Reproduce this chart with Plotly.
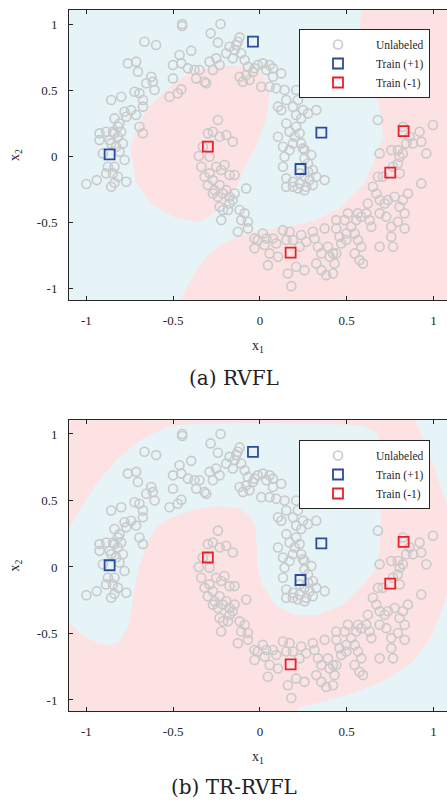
import plotly.graph_objects as go

# ---------------- data ----------------
unl_x = [
    -1.0, -0.94, -0.924, -0.905, -0.886, -0.857, -0.838, -0.838, -0.866, -0.847, -0.818, -0.857,
    -0.799, -0.838, -0.809, -0.77, -0.78, -0.742, -0.713, -0.694, -0.674, -0.78, -0.77, -0.761,
    -0.713, -0.703, -0.722, -0.694, -0.674, -0.674, -0.655, -0.626, -0.617, -0.607, -0.665, -0.598,
    -0.857, -0.828, -0.79, -0.809, -0.886, -0.924, -0.838, -0.799, -0.818, -0.876, -0.847, -0.818,
    -0.448, -0.448, -0.227, -0.284, -0.242, -0.463, -0.396, -0.501, -0.453, -0.415, -0.348, -0.367,
    -0.501, -0.521, -0.473, -0.453, -0.319, -0.309, -0.29, -0.252, -0.271, -0.232, -0.194, -0.156,
    -0.175, -0.117, -0.136, -0.108, -0.088, -0.069, -0.079, -0.117, -0.04, -0.012, 0.017, 0.037,
    0.056, 0.075, 0.123, 0.008, 0.056, 0.094, 0.142, 0.152, 0.209, 0.19, 0.219, 0.248,
    0.277, 0.325, 0.238, 0.152, 0.171, 0.104, 0.133, 0.142, 0.171, 0.2, 0.229, 0.238,
    0.257, 0.296, 0.277, 0.305, 0.325, 0.373, 0.152, 0.19, 0.229, 0.267, 0.305, 0.152,
    0.19, 0.133, 0.229, 0.257, 0.277, -0.377, -0.146, -0.127, -0.06, -0.098, -0.031, 0.075,
    0.104, 0.123, 0.209, 0.209, 0.19, 0.248, 0.257, 0.286, 0.219, 0.257,
    -0.352, -0.3, -0.242, -0.271, -0.232, -0.194, -0.156, -0.329, -0.29, -0.338, -0.319, -0.29,
    -0.271, -0.252, -0.223, -0.204, -0.175, -0.146, -0.3, -0.261, -0.232, -0.242, -0.213, -0.194,
    -0.175, -0.156, -0.146, -0.175, -0.271, -0.232, -0.213, -0.184, -0.223, -0.117, -0.088, -0.079,
    -0.069, -0.069, -0.108, -0.127, -0.031, -0.012, 0.017, 0.037, 0.075, 0.094, -0.031, 0.027,
    0.056, 0.104, 0.046, 0.133, 0.171, 0.19, 0.238, 0.152, 0.229, 0.267, 0.315, 0.334,
    0.354, 0.392, 0.402, 0.44, 0.469, 0.498, 0.526, 0.546, 0.565, 0.584, 0.546, 0.574,
    0.594, 0.161, 0.181, 0.209, 0.257, 0.325, 0.354, 0.382, 0.421, 0.43, 0.305, 0.44,
    0.373, 0.44, 0.488, 0.507, 0.555, 0.565, 0.584, 0.613, 0.622, 0.632, 0.642, 0.671,
    0.69, 0.719, 0.738, 0.776, 0.805, 0.824, 0.834, 0.853, 0.69, 0.728, 0.757, 0.795,
    0.834, 0.757, 0.69, 0.767, 0.651, 0.68, 0.709, 0.767, 0.795, 0.824, 0.795, 0.757,
    0.69, 0.68, 0.824, 0.863, 0.882, 0.92, 0.93, 0.959, 0.997, 0.93, 0.805, 0.459,
    0.498, 0.421, 0.843, 0.805,
]
unl_y = [
    -0.212, -0.182, 0.172, 0.02, -0.131, -0.232, -0.202, -0.081, 0.121, 0.184, 0.146, 0.424,
    0.449, 0.285, 0.247, 0.298, 0.336, 0.348, 0.311, 0.222, 0.172, -0.03, -0.194, 0.702,
    0.715, 0.639, 0.487, 0.475, 0.424, 0.374, 0.551, 0.601, 0.563, 0.5, 0.866, 0.841,
    0.096, 0.071, 0.096, 0.033, 0.184, 0.121, 0.172, 0.184, 0.222, -0.081, -0.131, -0.157,
    1.0, 0.985, 1.0, 0.929, 0.859, 0.765, 0.798, 0.689, 0.702, 0.664, 0.652, 0.588,
    0.588, 0.449, 0.475, 0.505, 0.563, 0.551, 0.715, 0.74, 0.652, 0.689, 0.778, 0.74,
    0.828, 0.899, 0.841, 0.778, 0.727, 0.677, 0.614, 0.601, 0.639, 0.689, 0.702, 0.652,
    0.689, 0.664, 0.626, 0.525, 0.525, 0.513, 0.5, 0.424, 0.5, 0.374, 0.424, 0.348,
    0.323, 0.348, 0.285, 0.247, 0.184, 0.146, 0.071, -0.005, 0.045, 0.146, 0.172, 0.096,
    0.045, 0.008, -0.056, -0.106, -0.157, -0.182, -0.169, -0.194, -0.207, -0.232, -0.22, -0.232,
    -0.232, -0.081, -0.131, -0.157, -0.119, 0.652, 0.803, 0.866, 0.576, 0.563, 0.664, 0.601,
    0.374, 0.348, 0.311, 0.222, 0.096, 0.058, -0.018, -0.182, -0.245, -0.258,
    0.0, 0.172, 0.273, 0.184, 0.146, 0.159, 0.109, 0.071, -0.005, -0.081, -0.157, -0.131,
    -0.182, -0.081, -0.106, -0.068, -0.144, -0.144, -0.22, -0.258, -0.22, -0.308, -0.283, -0.258,
    -0.308, -0.333, -0.283, -0.359, -0.283, -0.384, -0.409, -0.409, -0.485, -0.409, -0.434, -0.245,
    -0.497, -0.548, -0.485, -0.573, -0.624, -0.636, -0.586, -0.624, -0.624, -0.662, -0.699, -0.674,
    -0.737, -0.763, -0.826, -0.561, -0.573, -0.636, -0.598, -0.636, -0.687, -0.649, -0.624, -0.687,
    -0.737, -0.687, -0.763, -0.737, -0.662, -0.586, -0.535, -0.586, -0.636, -0.687, -0.737, -0.788,
    -0.813, -0.889, -0.985, -0.838, -0.864, -0.813, -0.864, -0.902, -0.889, -0.813, -0.573, -0.485,
    -0.548, -0.548, -0.485, -0.434, -0.485, -0.434, -0.46, -0.434, -0.359, -0.485, -0.535, -0.283,
    -0.333, -0.359, -0.333, -0.308, -0.384, -0.333, -0.434, -0.283, -0.434, -0.46, -0.535, -0.497,
    -0.548, -0.611, -0.687, -0.687, -0.232, -0.157, -0.157, -0.081, -0.056, 0.02, 0.045, 0.045,
    0.02, 0.273, 0.222, 0.146, 0.096, 0.184, 0.109, 0.02, 0.235, -0.207, -0.131, -0.611,
    -0.636, -0.737, 0.096, -0.005,
]

train_pos_x = [-0.04, 0.354, -0.866, 0.234]
train_pos_y = [0.866, 0.177, 0.013, -0.098]
train_neg_x = [-0.30, 0.828, 0.751, 0.177]
train_neg_y = [0.071, 0.189, -0.126, -0.732]

# RVFL: regions predicted as (-1), on a (+1) background
rvfl_neg_inner_x = [-0.352, -0.259, -0.127, 0.012, 0.058, 0.04, -0.012, -0.069, -0.081, -0.127,
                    -0.202, -0.3, -0.352, -0.484, -0.622, -0.715, -0.738, -0.749, -0.715, -0.64,
                    -0.524, -0.432]
rvfl_neg_inner_y = [0.652, 0.674, 0.689, 0.629, 0.5, 0.295, 0.098, -0.03, -0.068, -0.22,
                    -0.371, -0.462, -0.5, -0.47, -0.371, -0.197, 0.008, 0.045, 0.197, 0.371,
                    0.523, 0.606]
rvfl_neg_outer_x = [0.588, 0.588, 0.571, 0.6, 0.651, 0.692, 0.709, 0.674, 0.594, 0.461, 0.346,
                    0.259, 0.104, -0.069, -0.202, -0.3, -0.375, -0.467, -0.49, 1.2, 1.2]
rvfl_neg_outer_y = [1.2, 1.106, 0.955, 0.75, 0.515, 0.348, 0.144, 0.008, -0.22, -0.394, -0.47,
                    -0.508, -0.545, -0.583, -0.652, -0.75, -0.879, -1.106, -1.2, -1.2, 1.2]

# TR-RVFL: regions predicted as (+1), on a (-1) background
tr_pos_band_x = [-1.2, -1.1, -1.037, -0.941, -0.826, -0.692, -0.538, -0.4, 0.0, 0.4, 0.6, 0.68,
                 0.695, 0.697, 0.69, 0.66, 0.59, 0.475, 0.321, 0.206, 0.09, 0.013, -0.015,
                 -0.015, -0.025, -0.054, -0.121, -0.236, -0.371, -0.524, -0.601, -0.659, -0.697,
                 -0.717, -0.736, -0.765, -0.813, -0.87, -0.928, -1.024, -1.1, -1.2]
tr_pos_band_y = [0.25, 0.289, 0.426, 0.629, 0.802, 0.953, 1.053, 1.075, 1.08, 1.075, 1.06, 1.0,
                 0.516, 0.3, 0.1, -0.03, -0.138, -0.288, -0.363, -0.363, -0.288, -0.138, 0.013,
                 0.116, 0.291, 0.379, 0.441, 0.459, 0.436, 0.366, 0.291, 0.165, -0.01,
                 -0.113, -0.288, -0.463, -0.564, -0.589, -0.576, -0.514, -0.413, -0.38]
tr_pos_corner_x = [0.9, 0.897, 0.993, 1.078, 1.2, 1.2]
tr_pos_corner_y = [1.2, 1.1, 0.79, 0.466, 0.4, 1.2]
tr_pos_bottom_x = [0.19, 0.225, 0.359, 0.532, 0.724, 0.878, 0.993, 1.051, 1.078, 1.2, 1.2]
tr_pos_bottom_y = [-1.2, -1.053, -1.015, -0.952, -0.852, -0.714, -0.514, -0.313, -0.213, -0.15, -1.2]

tick_vals = [-1, -0.5, 0, 0.5, 1]
tick_text = ["-1", "-0.5", "0", "0.5", "1"]
captions = ["(a) RVFL", "(b) TR-RVFL"]

# ---------------- style ----------------
BLUE_BG = "#e6f4f8"
PINK_BG = "#fde2e4"
GRAY = "#c9c9c9"
BLUE = "#2d4b9e"
RED = "#e8212b"
AX = "#262626"
SERIF = "Liberation Serif"

fig = go.Figure()


def region(x, y, color, xa, ya):
    fig.add_trace(go.Scatter(x=x, y=y, fill="toself", fillcolor=color, mode="lines",
                             line=dict(width=0, color=color), hoverinfo="skip",
                             showlegend=False, xaxis=xa, yaxis=ya))


def points(xa, ya, leg):
    fig.add_trace(go.Scatter(x=unl_x, y=unl_y, mode="markers", name="Unlabeled",
                             marker=dict(symbol="circle-open", size=9, color=GRAY,
                                         line=dict(width=1.6)),
                             xaxis=xa, yaxis=ya, legend=leg))
    fig.add_trace(go.Scatter(x=train_pos_x, y=train_pos_y, mode="markers", name="Train (+1)",
                             marker=dict(symbol="square-open", size=10, color=BLUE,
                                         line=dict(width=1.8)),
                             xaxis=xa, yaxis=ya, legend=leg))
    fig.add_trace(go.Scatter(x=train_neg_x, y=train_neg_y, mode="markers", name="Train (-1)",
                             marker=dict(symbol="square-open", size=10, color=RED,
                                         line=dict(width=1.8)),
                             xaxis=xa, yaxis=ya, legend=leg))


region(rvfl_neg_inner_x, rvfl_neg_inner_y, PINK_BG, "x", "y")
region(rvfl_neg_outer_x, rvfl_neg_outer_y, PINK_BG, "x", "y")
points("x", "y", "legend")

region(tr_pos_band_x, tr_pos_band_y, BLUE_BG, "x2", "y2")
region(tr_pos_corner_x, tr_pos_corner_y, BLUE_BG, "x2", "y2")
region(tr_pos_bottom_x, tr_pos_bottom_y, BLUE_BG, "x2", "y2")
points("x2", "y2", "legend2")

H = 801.0
W = 447.0


def xaxis(anchor):
    return dict(domain=[69 / W, 1.0], range=[-1.1, 1.078], anchor=anchor,
                tickvals=tick_vals, ticktext=tick_text, ticks="inside", ticklen=4,
                tickcolor=AX, showline=True, linecolor=AX, linewidth=1, mirror="ticks",
                showgrid=False, zeroline=False, ticklabelstandoff=8,
                tickfont=dict(family=SERIF, size=13, color=AX),
                title=dict(text="x<sub>1</sub>", standoff=13,
                           font=dict(family=SERIF, size=14, color=AX)))


def yaxis(anchor, top_px, bot_px, rng):
    return dict(domain=[(H - bot_px) / H, (H - top_px) / H], range=rng, anchor=anchor,
                tickvals=tick_vals, ticktext=tick_text, ticks="inside", ticklen=4,
                tickcolor=AX, showline=True, linecolor=AX, linewidth=1, mirror=False,
                showgrid=False, zeroline=False, ticklabelstandoff=8,
                tickfont=dict(family=SERIF, size=13, color=AX),
                title=dict(text="x<sub>2</sub>", standoff=13,
                           font=dict(family=SERIF, size=14, color=AX)))


def legend(top_px):
    return dict(x=299 / W, y=(H - top_px) / H, xanchor="left", yanchor="top",
                bgcolor="white", bordercolor=AX, borderwidth=1, itemwidth=66,
                tracegroupgap=0, font=dict(family=SERIF, size=11.5, color=AX))


CAP_FONT = dict(family="DejaVu Serif", size=20, color="#222")

fig.update_layout(
    width=447, height=801, margin=dict(l=0, r=0, t=0, b=0),
    paper_bgcolor="white", plot_bgcolor="white",
    xaxis=xaxis("y"), yaxis=yaxis("x", 10, 300, [-1.09, 1.106]),
    xaxis2=xaxis("y2"), yaxis2=yaxis("x2", 420, 711, [-1.083, 1.105]),
    legend=legend(29), legend2=legend(440),
    shapes=[
        dict(type="rect", xref="x domain", yref="y domain", x0=0, x1=1, y0=0, y1=1,
             fillcolor=BLUE_BG, line=dict(width=0), layer="below"),
        dict(type="rect", xref="x2 domain", yref="y2 domain", x0=0, x1=1, y0=0, y1=1,
             fillcolor=PINK_BG, line=dict(width=0), layer="below"),
    ],
    annotations=[
        dict(text=captions[0], x=234 / W, y=(H - 378) / H, xref="paper", yref="paper",
             xanchor="center", yanchor="middle", showarrow=False, font=CAP_FONT),
        dict(text=captions[1], x=234 / W, y=(H - 787) / H, xref="paper", yref="paper",
             xanchor="center", yanchor="middle", showarrow=False, font=CAP_FONT),
    ],
)

fig.write_html("out.html")
